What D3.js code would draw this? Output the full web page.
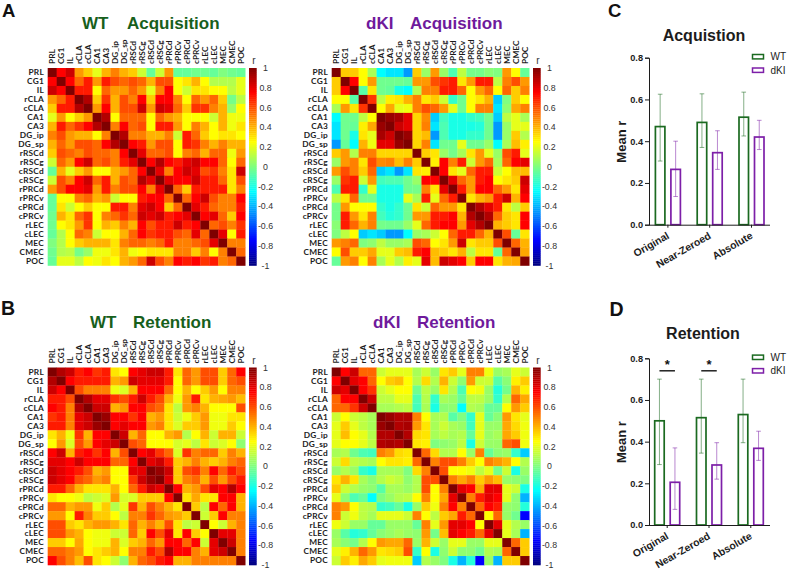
<!DOCTYPE html>
<html>
<head>
<meta charset="utf-8">
<script src="https://cdn.jsdelivr.net/npm/d3@7"></script>
<style>
    body { margin: 0; background: #fff; }
    svg { display: block; font-family: "Liberation Sans", Arial, sans-serif; }
</style>
</head>
<body>
<div id="chart"></div>
<script>
const regions = ["PRL", "CG1", "IL", "rCLA", "cCLA", "CA1", "CA3", "DG_ip", "DG_sp", "rRSCd", "rRSCg", "cRSCd", "cRSCg", "rPRCd", "rPRCv", "cPRCd", "cPRCv", "rLEC", "cLEC", "MEC", "CMEC", "POC"];
const colorTicks = [1, 0.8, 0.6, 0.4, 0.2, 0, -0.2, -0.4, -0.6, -0.8, -1];
const barGroups = ["Original", "Near-Zeroed", "Absolute"];
const genotypes = ["WT", "dKI"];
const barTicks = [0, 0.2, 0.4, 0.6, 0.8];

// upper triangles. diagonal is always 1
const wtAcq = [
    [.75,.85,.45,.35,.2,.4,.5,.4,.35,.15,-.05,.15,.45,-.05,-.05,-.03,-.03,-.05,0,-.03,-.05],
    [.75,.55,.7,.45,.7,.6,.55,.6,.55,.4,.6,.6,.25,.3,.4,.25,.1,.1,.1,.2],
    [.7,.7,.25,.55,.45,.45,.55,.45,.2,.5,.75,.25,.15,.3,.3,.25,.25,.12,.2],
    [.9,.35,.65,.4,.6,.5,.75,.35,.75,.75,.5,.25,.55,.45,.55,.35,-.02,.12],
    [.45,.75,.4,.6,.6,.85,.45,.85,.8,.55,.35,.65,.65,.5,.4,.05,.25],
    [.9,.25,.55,.55,.55,.25,.55,.45,.4,.25,.25,.25,.15,.4,.22,.22],
    [.5,.75,.55,.6,.25,.7,.7,.45,.25,.5,.4,.25,.4,.22,.3],
    [.9,.5,.5,.4,.4,.5,.15,.7,.55,.35,.25,.3,.3,.25],
    [.75,.7,.45,.6,.6,.25,.7,.65,.5,.4,.5,.4,.4],
    [.8,.55,.55,.6,.25,.5,.55,.4,.55,.55,.22,.45],
    [.75,.9,.75,.7,.8,.85,.75,.75,.55,.25,.55],
    [.8,.5,.75,.85,.8,.6,.65,.5,.3,.85],
    [.8,.75,.75,.85,.7,.7,.55,.3,.6],
    [.55,.35,.7,.7,.7,.7,.3,.5],
    [.55,.75,.85,.6,.5,.5,.75],
    [.8,.7,.55,.5,.5,.7],
    [.75,.8,.55,.35,.75],
    [.55,.6,.5,.65],
    [.8,.25,.7],
    [.5,.5],
    [.55],
    []
];
const dkiAcq = [
    [.35,.35,.25,.08,-.25,-.3,-.3,-.45,.35,.05,.45,.05,-.1,.12,-.02,-.02,.02,0,.45,.25,-.05],
    [.75,.25,.45,-.03,-.03,-.03,-.05,.45,.45,.6,.65,.7,.3,.45,.7,.7,.12,.5,.6,.45],
    [-.08,.3,-.03,-.05,-.2,-.25,.1,.5,.5,.7,.7,.55,.25,.45,.55,.25,.55,.35,.5],
    [.65,.12,.28,.3,.4,.5,.3,.35,.15,-.15,-.03,.25,.3,.4,-.35,0,.35,.25],
    [.25,.42,.2,.22,.5,.6,.55,.45,.2,-.03,.25,.5,.5,-.3,.03,.42,.5],
    [.95,.92,.8,.33,.48,-.35,-.12,-.2,-.2,-.15,-.12,-.02,-.35,.12,.2,.08],
    [.85,.8,.33,.5,-.3,-.1,-.2,-.2,-.2,-.18,-.03,-.45,.05,.2,.2],
    [.95,.33,.38,-.45,-.1,-.2,-.2,-.15,-.15,-.03,-.45,.05,.35,.1],
    [.33,.5,-.3,-.03,-.03,.2,-.03,-.03,.05,-.25,.08,.38,.28],
    [.35,.3,.05,-.02,.08,.3,.45,.2,.05,.6,.7,.2],
    [.28,.75,.5,.7,.15,.45,.55,.08,.55,.75,.8],
    [.75,.3,.2,.55,.7,.7,.15,.25,.38,.38],
    [.8,.55,.45,.7,.75,.25,.3,.35,.85],
    [.7,.45,.75,.75,.55,.45,.3,.8],
    [.3,.4,.45,.7,.85,.4,.75],
    [.9,.8,.7,.3,.12,.35],
    [.9,.55,.35,.3,.75],
    [.4,.35,.3,.75],
    [.6,-.05,.3],
    [.55,.4],
    [.42],
    []
];
const wtRet = [
    [.9,.85,.7,.75,.65,.7,.3,.25,.75,.8,.85,.85,.7,.3,.55,.45,.6,.6,.35,.55,.75],
    [.75,.7,.7,.7,.7,.4,.45,.85,.8,.8,.8,.7,.25,.55,.45,.6,.6,.35,.55,.6],
    [.6,.5,.5,.5,.22,.18,.4,.75,.75,.75,.55,.25,.4,.25,.35,.45,.25,.5,.5],
    [.9,.8,.8,.65,.6,.7,.85,.7,.6,.4,.22,.45,.7,.3,.4,.42,.45,.38],
    [.85,.85,.4,.45,.75,.75,.6,.55,.3,.12,.45,.5,.4,.25,.25,.25,.6],
    [.95,.75,.75,.65,.75,.4,.45,.3,.15,.22,.35,.45,.22,.22,.3,.3],
    [.75,.8,.75,.75,.45,.5,.3,.18,.35,.35,.45,.22,.22,.35,.25],
    [.85,.4,.55,.25,.25,.4,.45,.1,.25,.4,.15,.4,.4,.15],
    [.6,.55,.25,.25,.25,.17,.2,.12,.3,.15,.18,.25,.03],
    [.75,.8,.65,.55,.18,.65,.5,.55,.55,.35,.5,.4],
    [.8,.85,.7,.35,.4,.5,.4,.35,.4,.5,.55],
    [.95,.85,.35,.6,.65,.5,.75,.55,.7,.6],
    [.8,.35,.5,.55,.4,.6,.45,.6,.7],
    [.75,.4,.45,.6,.8,.75,.9,.75],
    [.3,.42,.3,.3,.75,.75,.4],
    [.35,.12,.75,.55,.75,.4],
    [.15,.35,.75,.5,.5],
    [.25,.15,.4,.5],
    [.8,.8,.5],
    [.85,.5],
    [.5],
    []
];
const dkiRet = [
    [.75,.85,.55,.55,.15,.2,.2,.2,.08,.15,.05,.3,.35,.2,.5,.5,.22,.05,.08,.2,.15],
    [.8,.75,.55,.25,.35,.38,.25,.1,.32,.1,.4,.15,.03,.45,.15,.15,-.08,.02,.28,.35],
    [.75,.65,.15,.2,.25,.25,-.03,.12,.05,.3,.1,-.1,.25,.22,.05,-.18,-.02,.4,.28],
    [.85,.12,.12,.2,.2,-.1,.1,-.15,.08,.05,-.05,.12,.12,.05,-.15,.1,.55,.42],
    [.08,.08,.1,.12,-.12,.08,-.2,.02,.03,-.25,.1,.08,-.05,-.05,.25,.45,.35],
    [.95,.9,.9,.5,.25,.08,.1,-.08,0,-.15,.2,-.05,.02,.45,.3,.2],
    [.9,.92,.45,.3,.08,.15,.08,.05,-.12,.2,.05,.05,.42,.32,.22],
    [.9,.32,.3,.08,.12,.08,.1,-.05,.2,.05,.08,.42,.35,.22],
    [.3,.28,0,.03,.05,.12,-.2,.15,.05,.05,.55,.6,.22],
    [.55,.32,.1,.1,.25,.05,.5,-.05,.03,.05,-.15,-.35],
    [.5,.6,.6,.5,.35,.25,.5,.45,.4,.25,.1],
    [.6,.25,.25,.22,.12,.2,-.02,.15,-.2,.05],
    [.5,.42,.5,.35,.45,.38,.05,.03,0],
    [.8,.75,.42,.8,.8,.2,.15,-.2],
    [.5,.7,.8,.75,.2,.03,-.4],
    [.55,.75,.7,.05,.03,-.18],
    [.25,.55,.05,-.03,-.75],
    [.8,.2,.1,.05],
    [.2,.08,-.4],
    [.55,.35],
    [.35],
    []
];

const wtAcqMean = [0.47, 0.49, 0.515];
const wtAcqLow = [0.305, 0.37, 0.425];
const wtAcqHigh = [0.625, 0.627, 0.635];
const dkiAcqMean = [0.265, 0.345, 0.42];
const dkiAcqLow = [0.135, 0.265, 0.36];
const dkiAcqHigh = [0.40, 0.45, 0.50];

const wtRetMean = [0.50, 0.515, 0.53];
const wtRetLow = [0.29, 0.345, 0.395];
const wtRetHigh = [0.70, 0.70, 0.70];
const dkiRetMean = [0.205, 0.288, 0.368];
const dkiRetLow = [0.075, 0.22, 0.31];
const dkiRetHigh = [0.37, 0.395, 0.45];

const signifGroups = ["Original", "Near-Zeroed"];
const signifLevel = 0.74;

const green = "#17601c";
const purple = "#6f1a9c";
const seriesColor = { WT: "#1b6a20", dKI: "#7d1fa8" };

// matlab jet
const jet = d3.scaleLinear()
    .domain([-1, -0.75, -0.25, 0.25, 0.75, 1])
    .range(["#00007f", "#0000ff", "#00ffff", "#ffff00", "#ff0000", "#7f0000"]);

const svg = d3.select("#chart").append("svg")
    .attr("width", 787)
    .attr("height", 570);

function fullMatrix(upper) {
    return regions.map((_, i) => regions.map((_, j) => {
        if (i === j) return 1;
        return i < j ? upper[i][j - i - 1] : upper[j][i - j - 1];
    }));
}

function drawHeatmap(left, top, upper) {
    const size = 197.5;
    const x = d3.scaleBand().domain(regions).range([left, left + size]);
    const y = d3.scaleBand().domain(regions).range([top, top + size]);
    const matrix = fullMatrix(upper);

    const cells = regions.flatMap((rowName, i) => regions.map((colName, j) => ({ rowName, colName, value: matrix[i][j] })));
    svg.append("g").selectAll("rect")
        .data(cells)
        .enter()
        .append("rect")
        .attr("x", d => x(d.colName))
        .attr("y", d => y(d.rowName))
        .attr("width", x.bandwidth() + 0.3)
        .attr("height", y.bandwidth() + 0.3)
        .attr("fill", d => jet(d.value));

    svg.append("g").selectAll("text")
        .data(regions)
        .enter()
        .append("text")
        .attr("x", left - 3.7)
        .attr("y", d => y(d) + y.bandwidth() / 2)
        .attr("dy", "0.35em")
        .attr("text-anchor", "end")
        .attr("font-family", "Lato")
        .attr("font-size", 8.3)
        .attr("letter-spacing", 0.25)
        .attr("font-weight", "bold")
        .attr("fill", "#1c1c1c")
        .text(d => d);

    svg.append("g").selectAll("text")
        .data(regions)
        .enter()
        .append("text")
        .attr("transform", d => `translate(${x(d) + x.bandwidth() / 2},${top - 4}) rotate(-90)`)
        .attr("dy", "0.35em")
        .attr("font-family", "Lato")
        .attr("font-size", 8.3)
        .attr("font-weight", "bold")
        .attr("fill", "#1c1c1c")
        .text(d => d);

    // colour bar
    const barLeft = left + size + 3.8;
    const barWidth = 7.7;
    const scaleY = d3.scaleLinear().domain([1, -1]).range([top, top + size]);
    svg.append("g").selectAll("rect")
        .data(d3.range(1, -1, -0.02))
        .enter()
        .append("rect")
        .attr("x", barLeft)
        .attr("y", d => scaleY(d))
        .attr("width", barWidth)
        .attr("height", scaleY(0) - scaleY(0.02) + 0.3)
        .attr("fill", d => jet(d - 0.01));

    svg.append("g").selectAll("text")
        .data(colorTicks)
        .enter()
        .append("text")
        .attr("x", barLeft + 16.5)
        .attr("y", d => scaleY(d))
        .attr("dy", "0.35em")
        .attr("text-anchor", "middle")
        .attr("font-size", 8.8)
        .attr("fill", "#333")
        .text(d => d);

    svg.append("text")
        .attr("x", barLeft + 5)
        .attr("y", top - 4)
        .attr("text-anchor", "middle")
        .attr("font-size", 10)
        .attr("fill", "#333")
        .text("r");
}

function drawBars(left, y0, y8, offset, wt, wtLow, wtHigh, dki, dkiLow, dkiHigh) {
    const x = d3.scaleBand().domain(barGroups).range([left + offset, left + offset + 125.4]);
    const inner = d3.scaleBand().domain(genotypes).range([8.4, 33.4]).paddingInner(0.387);
    const y = d3.scaleLinear().domain([0, 0.8]).range([y0, y8]);

    const bars = barGroups.flatMap((group, i) => [
        { group, name: "WT", mean: wt[i], low: wtLow[i], high: wtHigh[i] },
        { group, name: "dKI", mean: dki[i], low: dkiLow[i], high: dkiHigh[i] }
    ]);
    const cx = d => x(d.group) + inner(d.name) + inner.bandwidth() / 2;

    const g = svg.append("g");
    g.selectAll("rect")
        .data(bars)
        .enter()
        .append("rect")
        .attr("x", d => x(d.group) + inner(d.name))
        .attr("y", d => y(d.mean))
        .attr("width", inner.bandwidth())
        .attr("height", d => y0 - y(d.mean))
        .attr("fill", "#fff")
        .attr("stroke", d => seriesColor[d.name])
        .attr("stroke-width", 1.7);

    // error bars are thin and a bit washed out
    const err = g.selectAll("g.err")
        .data(bars)
        .enter()
        .append("g")
        .attr("class", "err")
        .attr("stroke", d => seriesColor[d.name])
        .attr("stroke-opacity", 0.6)
        .attr("stroke-width", 0.9);
    err.append("line")
        .attr("x1", cx).attr("x2", cx)
        .attr("y1", d => y(d.low)).attr("y2", d => y(d.high));
    err.append("line")
        .attr("x1", d => cx(d) - 2.3).attr("x2", d => cx(d) + 2.3)
        .attr("y1", d => y(d.high)).attr("y2", d => y(d.high));
    err.append("line")
        .attr("x1", d => cx(d) - 2.3).attr("x2", d => cx(d) + 2.3)
        .attr("y1", d => y(d.low)).attr("y2", d => y(d.low));

    const yAxis = svg.append("g")
        .attr("transform", `translate(${left},0)`)
        .call(d3.axisLeft(y).tickValues(barTicks).tickFormat(d3.format(".1f")).tickSize(4).tickPadding(2));
    const xAxis = svg.append("g")
        .attr("transform", `translate(0,${y0})`)
        .call(d3.axisBottom(x).tickSize(3).tickFormat(""));
    xAxis.select(".domain").attr("d", `M${left},0.5H770`);
    svg.selectAll("g.tick line, path.domain").attr("stroke", "#1c1c1c").attr("stroke-width", 1);
    yAxis.selectAll("text")
        .attr("font-family", "Liberation Sans")
        .attr("font-size", 9.2)
        .attr("font-weight", "bold")
        .attr("fill", "#1c1c1c");

    svg.append("g").selectAll("text")
        .data(barGroups)
        .enter()
        .append("text")
        .attr("transform", d => `translate(${x(d) + x.bandwidth() / 2 + 2},${y0 + 13}) rotate(-30)`)
        .attr("text-anchor", "end")
        .attr("font-size", 10.4)
        .attr("font-weight", "bold")
        .attr("fill", "#1c1c1c")
        .text(d => d);

    svg.append("text")
        .attr("transform", `translate(626,${(y0 + y8) / 2 + 0.5}) rotate(-90)`)
        .attr("text-anchor", "middle")
        .attr("font-size", 13)
        .attr("font-weight", "bold")
        .attr("fill", "#1c1c1c")
        .text("Mean r");

    return { x, inner, y };
}

function drawLegend(yTop) {
    const legendY = d3.scalePoint().domain(genotypes).range([yTop, yTop + 13.5]);
    const row = svg.append("g").selectAll("g")
        .data(genotypes)
        .enter()
        .append("g")
        .attr("transform", d => `translate(752.5,${legendY(d)})`);
    row.append("rect")
        .attr("x", 0).attr("y", -2.2)
        .attr("width", 11).attr("height", 4.4)
        .attr("fill", "#fff")
        .attr("stroke", d => seriesColor[d])
        .attr("stroke-width", 1.5);
    row.append("text")
        .attr("x", 18)
        .attr("dy", "0.35em")
        .attr("font-size", 10)
        .attr("fill", "#222")
        .text(d => d);
}

function label(x, y, text, size, color, anchor) {
    svg.append("text")
        .attr("x", x)
        .attr("y", y)
        .attr("text-anchor", anchor || "start")
        .attr("font-size", size)
        .attr("font-weight", "bold")
        .attr("fill", color)
        .text(text);
}

drawHeatmap(47.7, 68, wtAcq);
drawHeatmap(331.7, 68, dkiAcq);
drawHeatmap(47.7, 367.5, wtRet);
drawHeatmap(331.7, 367.5, dkiRet);

// panel letters
label(2, 16.5, "A", 18.5, "#111");
label(1, 315, "B", 19.5, "#111");
label(608, 16.5, "C", 18.5, "#111");
label(609.5, 316, "D", 19.5, "#111");

// heatmap titles
label(82, 28.5, "WT", 17, green);
label(127, 28.5, "Acquisition", 17, green);
label(366, 28.5, "dKI", 17, purple);
label(410, 28.5, "Acquisition", 17, purple);
label(90, 328, "WT", 17, green);
label(133, 328, "Retention", 17, green);
label(373, 328, "dKI", 17, purple);
label(417, 328, "Retention", 17, purple);

// bar panels
label(704, 41, "Acquistion", 16, "#1c1c1c", "middle");
label(703, 339, "Retention", 16, "#1c1c1c", "middle");

drawBars(649, 224.7, 57.7, -2, wtAcqMean, wtAcqLow, wtAcqHigh, dkiAcqMean, dkiAcqLow, dkiAcqHigh);
const ret = drawBars(649, 525, 358.3, -2.7, wtRetMean, wtRetLow, wtRetHigh, dkiRetMean, dkiRetLow, dkiRetHigh);
drawLegend(56.7);
drawLegend(357.3);

// significance marks on the retention panel
const signif = svg.append("g").selectAll("g")
    .data(signifGroups)
    .enter()
    .append("g");
signif.append("line")
    .attr("x1", d => ret.x(d) + ret.inner("WT") + ret.inner.bandwidth() / 2)
    .attr("x2", d => ret.x(d) + ret.inner("dKI") + ret.inner.bandwidth() / 2)
    .attr("y1", ret.y(signifLevel))
    .attr("y2", ret.y(signifLevel))
    .attr("stroke", "#111")
    .attr("stroke-width", 1.4);
signif.append("text")
    .attr("x", d => ret.x(d) + ret.x.bandwidth() / 2)
    .attr("y", ret.y(signifLevel) - 2)
    .attr("text-anchor", "middle")
    .attr("font-size", 13)
    .attr("font-weight", "bold")
    .attr("fill", "#111")
    .text("*");
</script>
</body>
</html>
